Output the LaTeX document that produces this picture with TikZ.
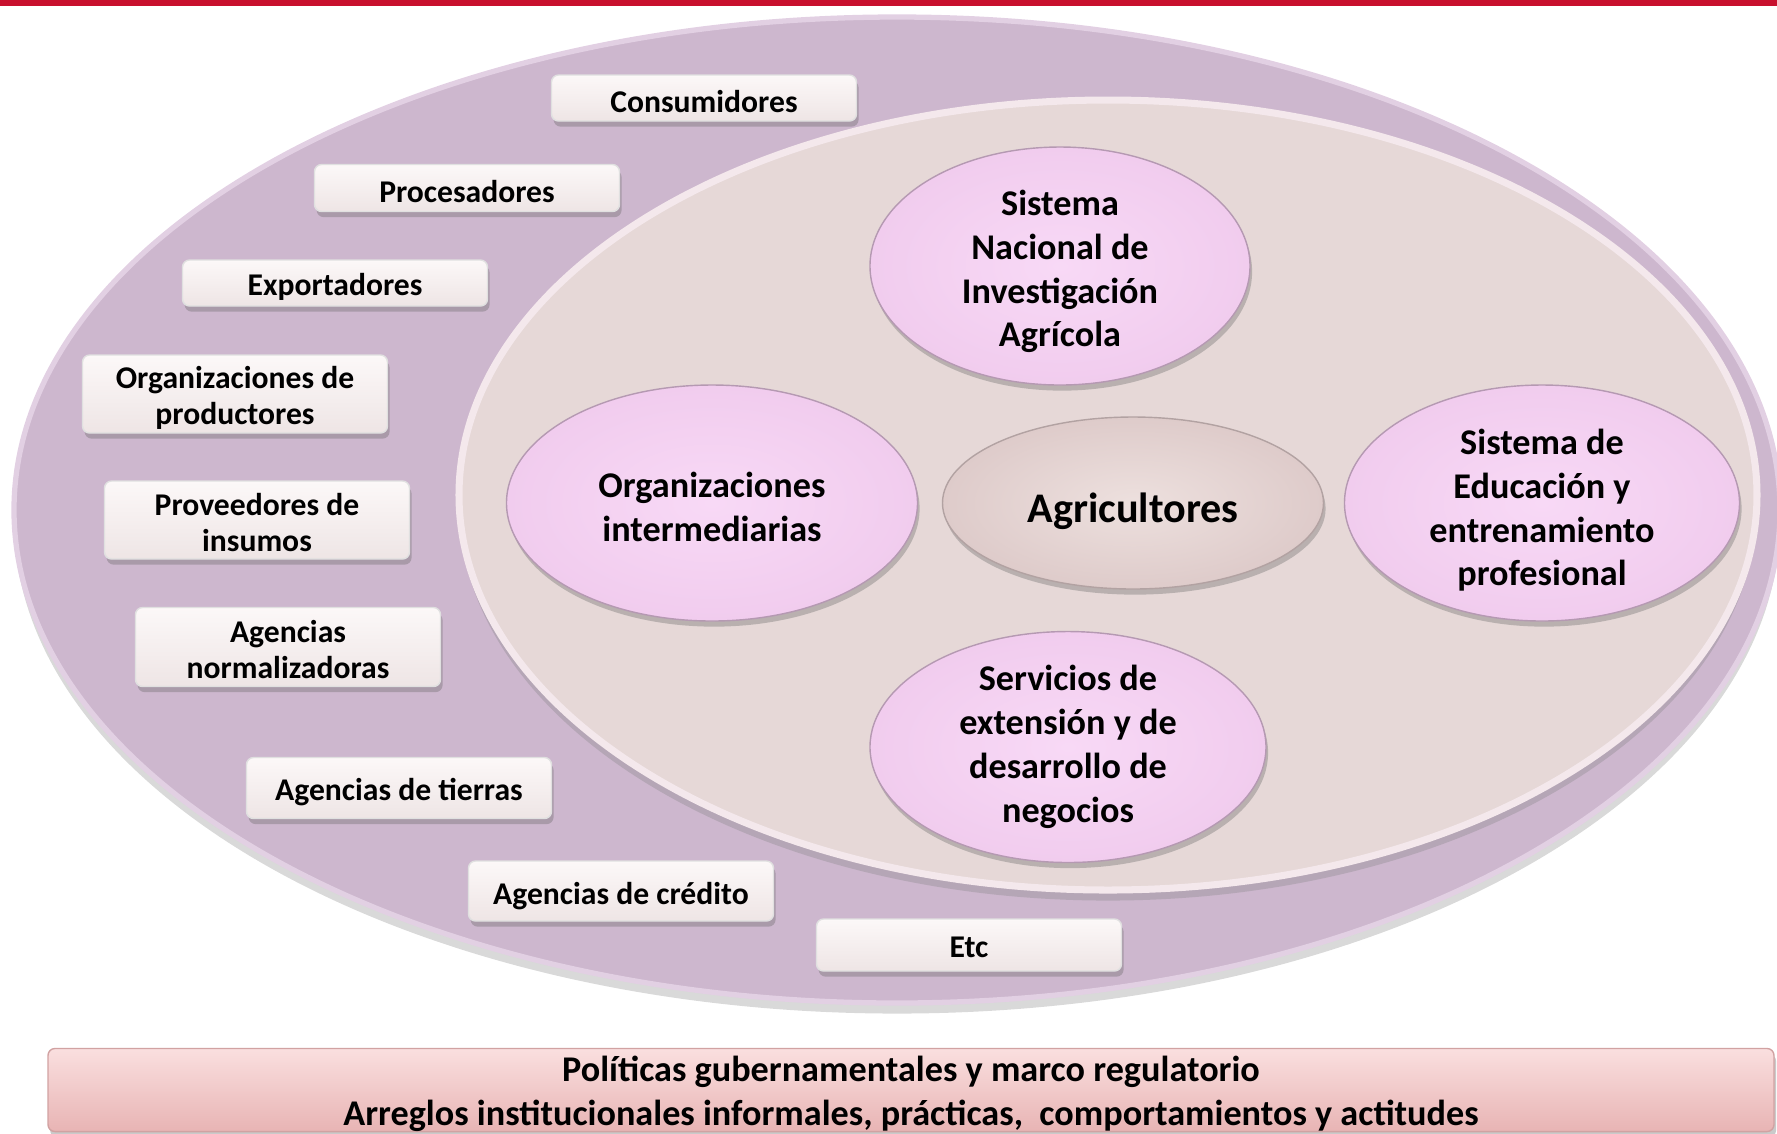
\documentclass[tikz,border=0pt]{standalone}
\usepackage{fontspec}
\setmainfont{Carlito}
\usepackage{xcolor}
\usetikzlibrary{shapes.geometric, shadows}

\definecolor{rojo}{HTML}{C8102E}
\definecolor{lila}{HTML}{CDB7CE}
\definecolor{lilaborde}{HTML}{E2D0E3}
\definecolor{crema}{HTML}{E6D8D7}
\definecolor{cremaborde}{HTML}{F4E8EC}
\definecolor{rosaA}{HTML}{F8D9F6}
\definecolor{rosaB}{HTML}{F1CCEE}
\definecolor{agriA}{HTML}{EDE0DE}
\definecolor{agriB}{HTML}{DECBCA}
\definecolor{cajaA}{HTML}{FCF8F8}
\definecolor{cajaB}{HTML}{EEE5E5}
\definecolor{marcoA}{HTML}{FADFDF}
\definecolor{marcoB}{HTML}{E8B4B4}

\begin{document}
\begin{tikzpicture}[
    sombra/.style={drop shadow={shadow xshift=0.6pt, shadow yshift=-1.6pt, opacity=.35, fill=black!60}},
    caja/.style={draw=black!12, rounded corners=2pt, top color=cajaA, bottom color=cajaB,
        minimum width=3.05cm, inner sep=0pt, align=center, sombra,
        font=\fontsize{9}{10.3}\selectfont\bfseries},
    burbuja/.style={ellipse, draw=rosaB!75!black, inner color=rosaA, outer color=rosaB,
        inner sep=0pt, align=center, sombra,
        font=\fontsize{10.3}{12.5}\selectfont\bfseries}]

    \useasboundingbox (0,0) rectangle (17.77,-11.33);
    \fill[rojo] (0,0) rectangle (17.77,-0.06);

    % ellipses
    \path[fill=lila, draw=lilaborde, line width=1.5pt,
        drop shadow={shadow xshift=0pt, shadow yshift=-3pt, opacity=.3}]
        (8.97,-5.10) ellipse [x radius=8.83, y radius=4.93];
    \path[fill=crema, draw=cremaborde, line width=2pt,
        drop shadow={shadow xshift=0pt, shadow yshift=-3pt, opacity=.3}]
        (11.08,-4.95) ellipse [x radius=6.49, y radius=3.95];

    \node[burbuja, minimum width=3.80cm, minimum height=2.38cm, text height=47.8pt, inner ysep=-3pt] (sni) at (10.60,-2.66)
        {Sistema\\Nacional de\\Investigación\\Agrícola};
    \node[burbuja, minimum width=4.11cm, minimum height=2.36cm, text height=21.7pt] (inter) at (7.12,-5.03)
        {Organizaciones\\intermediarias};
    \node[burbuja, minimum width=3.81cm, minimum height=1.72cm, inner color=agriA, outer color=agriB,
        draw=agriB!80!black, text height=13pt, font=\fontsize{12}{14}\selectfont\bfseries] (agri) at (11.33,-5.03)
        {Agricultores};
    \node[burbuja, minimum width=3.95cm, minimum height=2.36cm, text height=48.8pt, inner ysep=-3pt] (edu) at (15.42,-5.03)
        {Sistema de\\Educación y\\entrenamiento\\profesional};
    \node[burbuja, minimum width=3.96cm, minimum height=2.24cm] (serv) at (10.68,-7.47)
        {Servicios de\\extensión y de\\desarrollo de\\negocios};

    % actores
    \foreach \n/\x/\y/\h/\ah/\t in {
        cons/7.04/-0.98/0.46/8.4/Consumidores,
        proc/4.67/-1.88/0.47/8.4/Procesadores,
        expo/3.35/-2.83/0.46/8.6/Exportadores,
        orgp/2.35/-3.94/0.78/18.6/{Organizaciones de\\productores},
        prov/2.57/-5.20/0.78/18.2/{Proveedores de\\insumos},
        norm/2.88/-6.47/0.79/18.2/{Agencias\\normalizadoras},
        tier/3.99/-7.88/0.61/8.6/Agencias de tierras,
        cred/6.21/-8.91/0.60/9.0/Agencias de crédito,
        etc/9.69/-9.45/0.52/7.4/Etc}
        \node[caja, minimum height=\h cm, text height=\ah pt] (\n) at (\x,\y) {\t};

    \node[caja, minimum width=17.26cm, minimum height=0.83cm, top color=marcoA, bottom color=marcoB,
        draw=marcoB!90!black, text height=21.9pt, font=\fontsize{10.3}{12.5}\selectfont\bfseries] (marco) at (9.11,-10.90)
        {Políticas gubernamentales y marco regulatorio\\Arreglos institucionales informales, prácticas, \ comportamientos y actitudes};
\end{tikzpicture}
\end{document}
